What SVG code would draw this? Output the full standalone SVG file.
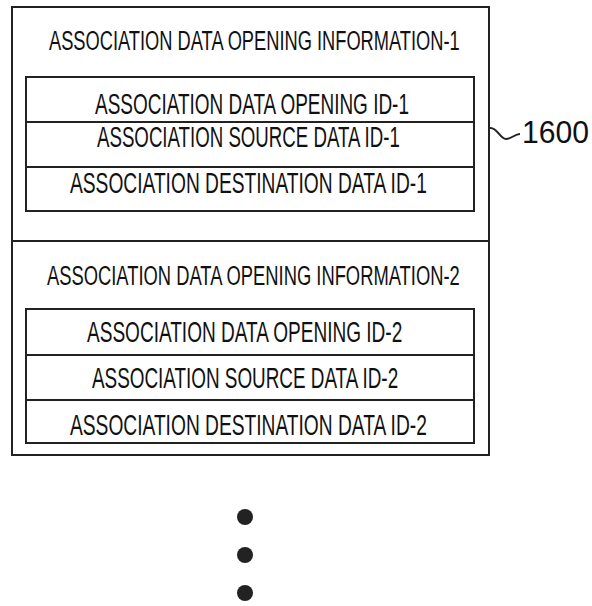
<svg xmlns="http://www.w3.org/2000/svg" width="592" height="606" viewBox="0 0 592 606">
<style>
.box{fill:none;stroke:#222;stroke-width:2}
.t{font-family:"Liberation Sans",Arial,sans-serif;font-size:29px;fill:#111}
.h{font-size:27px}
.dot{fill:#222}
</style>
<rect width="592" height="606" fill="#fff"/>
<g id="n1600">
<rect class="box" x="12" y="7" width="477" height="448"/>
<line class="box" x1="12" y1="241" x2="489" y2="241"/>
</g>
<g id="info1">
<text class="t h" transform="translate(49 50) scale(0.68 1)" textLength="604" lengthAdjust="spacingAndGlyphs">ASSOCIATION DATA OPENING INFORMATION-1</text>
<g id="info1-opening">
<rect class="box" x="26" y="77" width="448" height="45"/>
<text class="t" transform="translate(95 114) scale(0.65 1)" textLength="483" lengthAdjust="spacingAndGlyphs">ASSOCIATION DATA OPENING ID-1</text>
</g>
<g id="info1-source">
<rect class="box" x="26" y="122" width="448" height="45"/>
<text class="t" transform="translate(97 147) scale(0.65 1)" textLength="466" lengthAdjust="spacingAndGlyphs">ASSOCIATION SOURCE DATA ID-1</text>
</g>
<g id="info1-dest">
<rect class="box" x="26" y="167" width="448" height="44"/>
<text class="t" transform="translate(70 193) scale(0.65 1)" textLength="549" lengthAdjust="spacingAndGlyphs">ASSOCIATION DESTINATION DATA ID-1</text>
</g>
</g>
<g id="info2">
<text class="t h" transform="translate(47 285) scale(0.68 1)" textLength="607" lengthAdjust="spacingAndGlyphs">ASSOCIATION DATA OPENING INFORMATION-2</text>
<g id="info2-opening">
<rect class="box" x="26" y="309" width="448" height="46"/>
<text class="t" transform="translate(87 342) scale(0.65 1)" textLength="485" lengthAdjust="spacingAndGlyphs">ASSOCIATION DATA OPENING ID-2</text>
</g>
<g id="info2-source">
<rect class="box" x="26" y="355" width="448" height="45"/>
<text class="t" transform="translate(92 388) scale(0.65 1)" textLength="471" lengthAdjust="spacingAndGlyphs">ASSOCIATION SOURCE DATA ID-2</text>
</g>
<g id="info2-dest">
<rect class="box" x="26" y="400" width="448" height="43"/>
<text class="t" transform="translate(70 435) scale(0.65 1)" textLength="549" lengthAdjust="spacingAndGlyphs">ASSOCIATION DESTINATION DATA ID-2</text>
</g>
</g>
<g id="connectors">
<path d="M490,128 C497,127 500,139 506,139 C511,139 515,134 520,134" fill="none" stroke="#222" stroke-width="2"/>
</g>
<g id="label1600">
<text transform="translate(522 143) scale(0.93 1)" font-family="'Liberation Sans',Arial,sans-serif" font-size="32" fill="#111" textLength="72" lengthAdjust="spacingAndGlyphs">1600</text>
</g>
<g id="ellipsis">
<circle class="dot" cx="245" cy="517" r="8"/>
<circle class="dot" cx="245" cy="555" r="8"/>
<circle class="dot" cx="245" cy="593" r="8"/>
</g>
</svg>
